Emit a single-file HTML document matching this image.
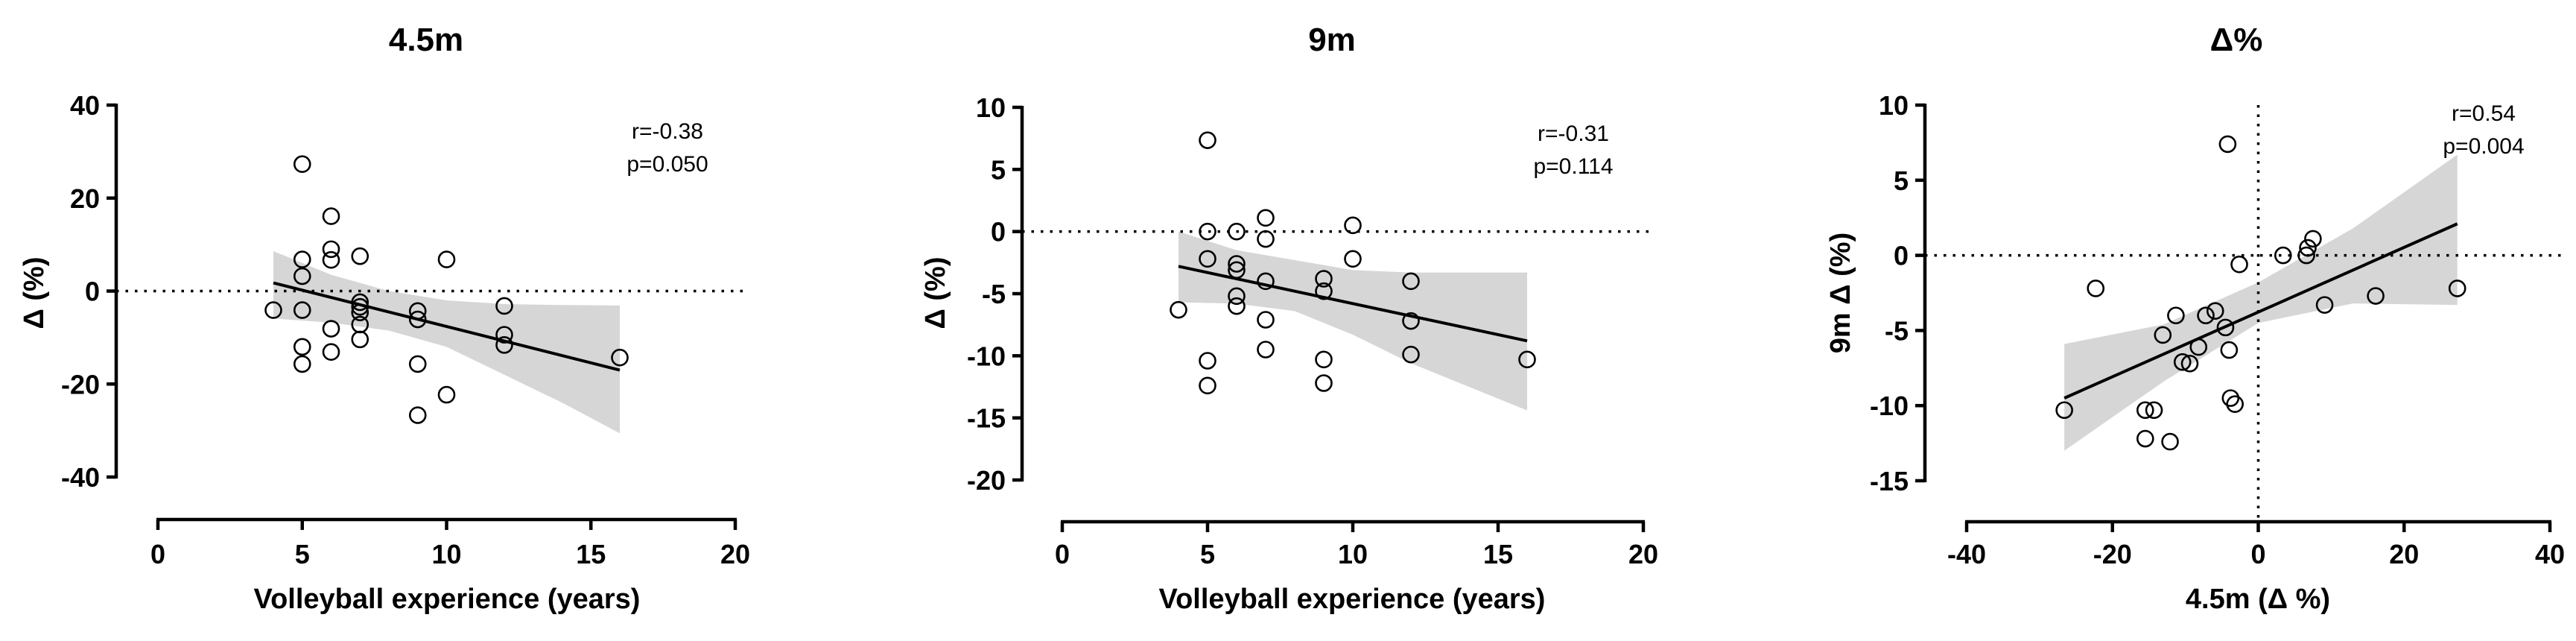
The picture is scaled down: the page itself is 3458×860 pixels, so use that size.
<!DOCTYPE html>
<html><head><meta charset="utf-8">
<style>
html,body{margin:0;padding:0;background:#fff;}
svg{display:block;}
text{font-family:"Liberation Sans",Arial,sans-serif;fill:#000;}
</style></head>
<body>
<svg id="fig" width="3458" height="860" viewBox="0 0 3458 860" xmlns="http://www.w3.org/2000/svg"></svg>
<script>
// ---- Panel 1: 4.5m ----
const p1X = [5,6,6,6,7,10,5,5,4,5,7,7,7,7,7,6,6,5,5,9,9,9,9,10,12,12,12,16];
const p1Y = [27.3,16.1,9.0,6.7,7.5,6.8,6.8,3.2,-4.1,-4.1,-2.4,-3.4,-4.6,-7.2,-10.4,-8.1,-13.1,-12.0,-15.7,-4.3,-6.1,-15.7,-26.7,-22.3,-3.2,-9.4,-11.6,-14.3];
const p1Fit = [1.75,-17.0];
const p1BandX = [4,6,8,10,12,14,16];
const p1BandUp = [8.6,3.5,0,-2,-2.8,-3,-3.1];
const p1BandLo = [-5.9,-6.8,-8.5,-12,-18,-24,-30.6];
const p1XTicks = [0,5,10,15,20];
const p1YTicks = [40,20,0,-20,-40];
// ---- Panel 2: 9m ----
const p2X = [5,5,5,5,5,6,6,6,6,6,7,7,7,7,7,4,9,9,9,9,10,10,12,12,12,16];
const p2Y = [7.35,0,-2.2,-10.4,-12.4,0,-2.6,-3.1,-5.2,-6.0,1.1,-0.6,-4.0,-7.1,-9.5,-6.3,-3.8,-4.8,-10.3,-12.2,0.5,-2.2,-4.0,-7.2,-9.9,-10.3];
const p2Fit = [-2.8,-8.8];
const p2BandX = [4,6,8,10,12,14,16];
const p2BandUp = [0,-1.5,-2.3,-3.1,-3.3,-3.3,-3.3];
const p2BandLo = [-5.7,-5.8,-6.4,-8.3,-10.6,-12.5,-14.4];
const p2XTicks = [0,5,10,15,20];
const p2YTicks = [10,5,0,-5,-10,-15,-20];
// ---- Panel 3: delta% ----
const p3X = [-4.2,-22.3,-2.6,3.4,6.6,6.8,7.5,9.1,16.1,27.3,-11.3,-7.2,-5.9,-4.5,-13.1,-8.2,-4.0,-10.4,-9.4,-3.8,-3.2,-26.6,-15.5,-14.3,-15.5,-12.1];
const p3Y = [7.4,-2.2,-0.6,0,0,0.5,1.1,-3.3,-2.7,-2.2,-4.0,-4.0,-3.7,-4.8,-5.3,-6.1,-6.3,-7.1,-7.2,-9.5,-9.9,-10.3,-10.3,-10.3,-12.2,-12.4];
const p3FitX = [-26.6,27.3];
const p3Fit = [-9.5,2.1];
const p3BandX = [-26.6,-13,0,13,27.3];
const p3BandUp = [-5.9,-4.6,-1.8,1.8,6.7];
const p3BandLo = [-13,-8.4,-4.5,-3.2,-3.3];
const p3XTicks = [-40,-20,0,20,40];
const p3YTicks = [10,5,0,-5,-10,-15];

const NS = "http://www.w3.org/2000/svg";
const svg = document.getElementById('fig');
function mk(tag, attrs, parent, txt){
  const e = document.createElementNS(NS, tag);
  for (const k in attrs) e.setAttribute(k, attrs[k]);
  if (txt !== undefined) e.textContent = txt;
  (parent||svg).appendChild(e);
  return e;
}
function lin(d0,d1,r0,r1){ return v => r0 + (v-d0)*(r1-r0)/(d1-d0); }

function panel(cfg){
  const g = mk('g', {});
  
  
  const sx = lin(cfg.xd[0], cfg.xd[1], cfg.xr[0], cfg.xr[1]);
  const sy = lin(cfg.yd[0], cfg.yd[1], cfg.yr[0], cfg.yr[1]);
  // band
  let pts = [];
  cfg.bx.forEach((x,i)=>pts.push(sx(x)+','+sy(cfg.bu[i])));
  for (let i=cfg.bx.length-1;i>=0;i--) pts.push(sx(cfg.bx[i])+','+sy(cfg.bl[i]));
  const band = mk('polygon', {points: pts.join(' '), fill:'#d6d6d6'}, g);
  
  
  // zero lines
  const z = mk('line', {x1: cfg.yAxisX, x2: cfg.xr[1]+15, y1: sy(0), y2: sy(0), stroke:'#000','stroke-width':3.5,'stroke-dasharray':'3.5,9'}, g);
  
  
  if (cfg.vzero){
    const vz = mk('line', {x1: sx(0), x2: sx(0), y1: cfg.yr[1], y2: cfg.xAxisY, stroke:'#000','stroke-width':3.5,'stroke-dasharray':'3.5,9'}, g);
    
    
  }
  // points
  cfg.px.forEach((x,i)=>{
    const c = mk('circle', {cx: sx(x), cy: sy(cfg.py[i]), r: 10.5, fill:'none', stroke:'#000','stroke-width':2.6}, g);
    
    
  });
  // fit
  const f = mk('line', {x1: sx(cfg.fx[0]), x2: sx(cfg.fx[1]), y1: sy(cfg.fy[0]), y2: sy(cfg.fy[1]), stroke:'#000','stroke-width':4}, g);
  
  
  // y axis
  const ya = mk('line', {x1: cfg.yAxisX, x2: cfg.yAxisX, y1: cfg.yr[1]-2, y2: cfg.yr[0]+2, stroke:'#000','stroke-width':4.5}, g);
  
  
  cfg.yt.forEach(v=>{
    mk('line', {x1: cfg.yAxisX-13, x2: cfg.yAxisX, y1: sy(v), y2: sy(v), stroke:'#000','stroke-width':4.5}, g);
    const t = mk('text', {x: cfg.yAxisX-22, y: sy(v)+13, 'text-anchor':'end','font-size':36,'font-weight':'bold'}, g, String(v));
    
    
  });
  // x axis
  const xa = mk('line', {x1: cfg.xr[0]-2, x2: cfg.xr[1]+2, y1: cfg.xAxisY, y2: cfg.xAxisY, stroke:'#000','stroke-width':4.5}, g);
  
  
  cfg.xt.forEach(v=>{
    mk('line', {x1: sx(v), x2: sx(v), y1: cfg.xAxisY, y2: cfg.xAxisY+14, stroke:'#000','stroke-width':4.5}, g);
    const t = mk('text', {x: sx(v), y: 756, 'text-anchor':'middle','font-size':36,'font-weight':'bold'}, g, String(v));
    
    
  });
  // titles
  const tt = mk('text', {x: cfg.titleX, y: 68, 'text-anchor':'middle','font-size':44,'font-weight':'bold'}, g, cfg.title);
  
  
  const xt = mk('text', {x: cfg.xTitleX, y: 816, 'text-anchor':'middle','font-size':38,'font-weight':'bold'}, g, cfg.xTitle);
  
  
  const yt = mk('text', {x: 0, y: 0, 'text-anchor':'middle','font-size':38,'font-weight':'bold', transform:'translate('+(cfg.yTitleX+13)+',393) rotate(-90)'}, g, cfg.yTitle);
  
  
  const r = mk('text', {x: cfg.statX, y: cfg.statY, 'text-anchor':'middle','font-size':30}, g, cfg.rText);
  
  
  const p = mk('text', {x: cfg.statX, y: cfg.statY+44, 'text-anchor':'middle','font-size':30}, g, cfg.pText);
  
  
}

panel({name:'panel-4-5m', xd:[0,20], xr:[212,987], yd:[-40,40], yr:[640,141], yAxisX:156, xAxisY:697,
  px:p1X, py:p1Y, fx:[4,16], fy:p1Fit, bx:p1BandX, bu:p1BandUp, bl:p1BandLo, xt:p1XTicks, yt:p1YTicks,
  title:'4.5m', titleX:572, xTitle:'Volleyball experience (years)', xTitleX:600, yTitle:'Δ (%)', yTitleX:45,
  rText:'r=-0.38', pText:'p=0.050', statX:896, statY:186});
panel({name:'panel-9m', xd:[0,20], xr:[1426,2206], yd:[-20,10], yr:[644,144], yAxisX:1372, xAxisY:700,
  px:p2X, py:p2Y, fx:[4,16], fy:p2Fit, bx:p2BandX, bu:p2BandUp, bl:p2BandLo, xt:p2XTicks, yt:p2YTicks,
  title:'9m', titleX:1788, xTitle:'Volleyball experience (years)', xTitleX:1815, yTitle:'Δ (%)', yTitleX:1255,
  rText:'r=-0.31', pText:'p=0.114', statX:2112, statY:189});
panel({name:'panel-delta-percent', xd:[-40,40], xr:[2640,3423], yd:[-15,10], yr:[645,141], yAxisX:2584, xAxisY:700, vzero:true,
  px:p3X, py:p3Y, fx:p3FitX, fy:p3Fit, bx:p3BandX, bu:p3BandUp, bl:p3BandLo, xt:p3XTicks, yt:p3YTicks,
  title:'Δ%', titleX:3002, xTitle:'4.5m (Δ %)', xTitleX:3031, yTitle:'9m  Δ (%)', yTitleX:2470,
  rText:'r=0.54', pText:'p=0.004', statX:3334, statY:162});
</script>
</body></html>
